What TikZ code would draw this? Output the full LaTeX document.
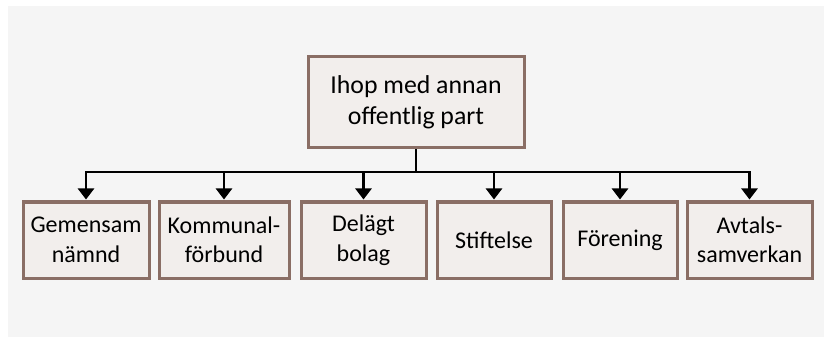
\documentclass[tikz,border=0pt]{standalone}
\usepackage{fontspec}
\setmainfont{Carlito}
\usetikzlibrary{arrows.meta}

\definecolor{bgcol}{HTML}{F5F5F5}
\definecolor{boxfill}{HTML}{F2EEEC}
\definecolor{boxline}{HTML}{8A6E65}

\begin{document}
\begin{tikzpicture}[x=1pt,y=1pt,
  orgbox/.style={draw=boxline,line width=3pt,fill=boxfill,inner sep=0pt,
    align=center,minimum height=76pt,font=\fontsize{24}{29.5}\selectfont},
  topbox/.style={orgbox,minimum width=216pt,minimum height=91pt,
    font=\fontsize{25.8}{31}\selectfont},
  link/.style={line width=2.5pt,black},
  arr/.style={link,-{Triangle[width=16pt,length=11pt]}}]
\fill[white] (0,0) rectangle (824,343);
\fill[bgcol] (8,6) rectangle (824,337);
\useasboundingbox (0,0) rectangle (824,343);

\node[topbox] (top) at (416,240.5) {Ihop med annan\\offentlig part};

\node[orgbox,minimum width=126pt] (b1) at (86,103) {Gemensam\\nämnd};
\node[orgbox,minimum width=130pt] (b2) at (224,103) {Kommunal-\\förbund};
\node[orgbox,minimum width=125pt] (b3) at (363.5,103) {Delägt\\bolag};
\node[orgbox,minimum width=114pt] (b4) at (494,103) {Stiftelse};
\node[orgbox,minimum width=114pt] (b5) at (620,103) {Förening};
\node[orgbox,minimum width=125pt] (b6) at (749.5,103) {Avtals-\\samverkan};

\coordinate (bus) at (416,171);
\draw[link] (top.south) -- (bus);
\draw[link,line cap=rect] (b1.north |- bus) -- (b6.north |- bus);
\foreach \i in {1,...,6}
  \draw[arr] (b\i.north |- bus) -- ([yshift=1pt]b\i.north);

\end{tikzpicture}
\end{document}
